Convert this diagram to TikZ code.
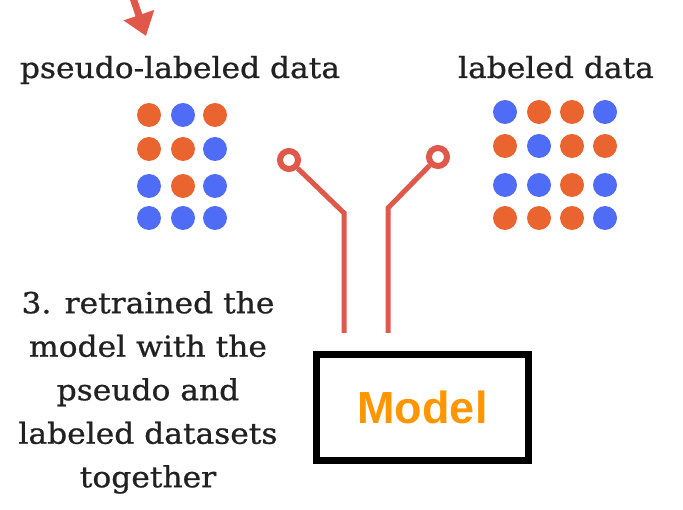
\documentclass[tikz,border=0pt]{standalone}
\usepackage{fontspec}
\setmainfont[FakeStretch=1.08, FakeBold=0.8]{DejaVu Serif}
\newfontfamily\modelfont{Liberation Sans}
\usepackage{tikz}
\usetikzlibrary{arrows.meta}
\usetikzlibrary{positioning}
\definecolor{wirered}{HTML}{E0584A}
\definecolor{dotorange}{HTML}{E9642F}
\definecolor{dotblue}{HTML}{4F6CF6}
\definecolor{modelorange}{HTML}{FF9600}
\tikzset{
    dot/.style={circle, inner sep=0pt, minimum size=24pt},
    odot/.style={dot, fill=dotorange},
    bdot/.style={dot, fill=dotblue},
    wire/.style={draw=wirered, line width=5pt},
    terminal/.style={circle, draw=wirered, line width=6pt, fill=white,
        minimum size=18pt, inner sep=0pt},
    pointer/.style={draw=wirered, line width=7pt,
        -{Triangle[width=31pt,length=22pt]}},
    datatext/.style={font=\fontsize{29}{43.5}\selectfont, text=black!87, inner sep=0pt},
    modelbox/.style={draw=black, line width=7pt, minimum width=212pt,
        minimum height=106pt, font=\modelfont\bfseries\fontsize{45}{45}\selectfont,
        text=modelorange},
}

\begin{document}
\begin{tikzpicture}[x=1pt, y=-1pt]
	\useasboundingbox (0,0) rectangle (683,510);
	% arrow coming from step 2
	\coordinate (arrowtail) at (131,-8);
	\coordinate (arrowtip) at (146,36);
	\draw[pointer] (arrowtail) -- (arrowtip);
	% titles
	\node[datatext, anchor=base] (pseudotitle) at (180,78) {pseudo-labeled data};
	\node[datatext, anchor=base] (labeledtitle) at (556,78) {labeled data};
	% pseudo-labeled points
	\foreach \c [count=\i from 0] in {o,b,o, o,o,b, b,o,b, b,b,b} {
		\pgfmathsetmacro{\col}{mod(\i,3)}
		\pgfmathsetmacro{\row}{int(\i/3)}
		\pgfmathsetmacro{\px}{{149,183,215}[\col]}
		\pgfmathsetmacro{\py}{{115,149,186,218}[\row]}
		\node[\c dot] (pl-\i) at (\px,\py) {};
	}
	% labeled points
	\foreach \c [count=\i from 0] in {b,o,o,b, o,b,o,o, b,b,o,b, o,o,o,b} {
		\pgfmathsetmacro{\col}{mod(\i,4)}
		\pgfmathsetmacro{\row}{int(\i/4)}
		\pgfmathsetmacro{\px}{{505,539,572,605}[\col]}
		\pgfmathsetmacro{\py}{{112,146,185,218}[\row]}
		\node[\c dot] (ld-\i) at (\px,\py) {};
	}
	% wires into the model
	\node[terminal] (lterm) at (289,160) {};
	\node[terminal] (rterm) at (438,157) {};
	\coordinate (lbend) at (344,213);
	\coordinate (rbend) at (388,208);
	\coordinate (lend) at (344,333);
	\coordinate (rend) at (388,333);
	\draw[wire] (lterm) -- (lbend) -- (lend);
	\draw[wire] (rterm) -- (rbend) -- (rend);
	% model
	\node[modelbox] (model) at (422.5,407.5) {Model};
	% step text
	\node[datatext, align=center, anchor=north] (steptext) at (148,291) {3. retrained the\\model with the\\pseudo and\\labeled datasets\\together};
\end{tikzpicture}
\end{document}
